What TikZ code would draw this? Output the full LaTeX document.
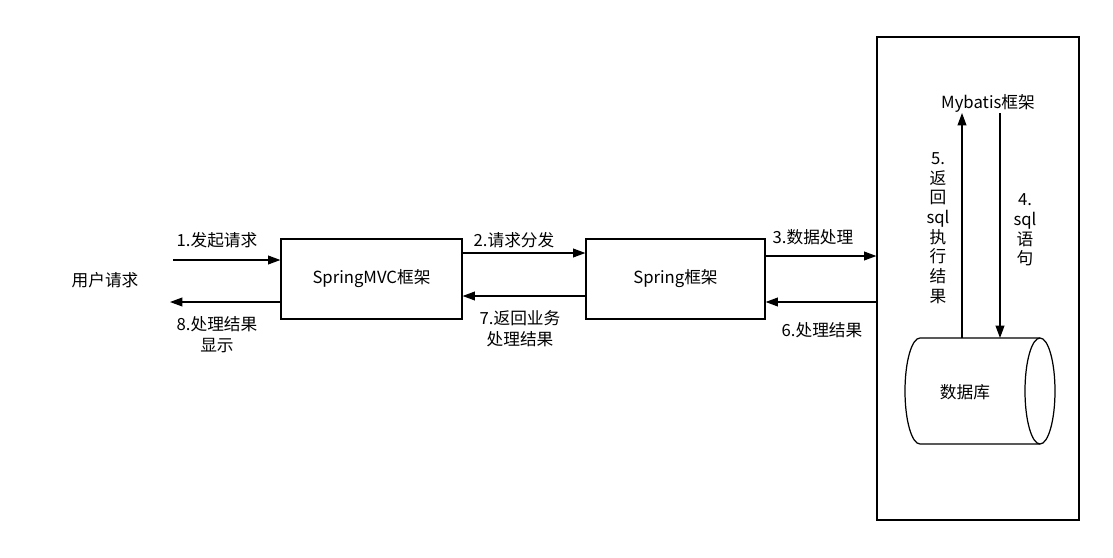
\documentclass[tikz,border=0pt]{standalone}
\usepackage{fontspec}
\setmainfont{Noto Sans CJK SC}
\usetikzlibrary{arrows.meta}
\begin{document}
\begin{tikzpicture}[x=0.02cm,y=-0.02cm,
  every node/.style={font=\fontsize{9.5pt}{12pt}\selectfont,inner sep=1pt},
  box/.style={draw,line width=0.7pt,minimum width=3.62cm,minimum height=1.6cm},
  arr/.style={-{Triangle[length=7pt,width=5pt]},line width=0.7pt},
  vtxt/.style={align=center,font=\fontsize{9.5pt}{11.2pt}\selectfont}]
\path[use as bounding box] (0,0) rectangle (1113,558);
\node (user) at (105,280) {用户请求};
\node[box] (mvc) at (371.5,279) {SpringMVC框架};
\node[box,minimum width=3.58cm] (spring) at (675.5,279) {Spring框架};
\node[draw,line width=0.7pt,minimum width=4.04cm,minimum height=9.66cm,inner sep=0] (big) at (978,278.5) {};
\node (mybatis) at (988,103) {Mybatis框架};
% cylinder
\draw[line width=0.7pt] (1040,338) -- (920,338) arc[start angle=-90,end angle=-270,x radius=15,y radius=53] -- (1040,444);
\draw[line width=0.7pt] (1040,391) ellipse[x radius=15,y radius=53];
\node (db) at (965,392) {数据库};
\coordinate (c5) at (962,338); \coordinate (m5) at (962,113);
\coordinate (m4) at (1000,113); \coordinate (c4) at (1000,338);
\coordinate (u1) at (173,260); \coordinate (u8) at (170,302);
% arrows
\draw[arr] (u1) -- (u1 -| mvc.west);
\draw[arr] (mvc.west |- u8) -- (u8);
\draw[arr] (mvc.east |- 0,253) -- (spring.west |- 0,253);
\draw[arr] (spring.west |- 0,296) -- (mvc.east |- 0,296);
\draw[arr] (spring.east |- 0,256) -- (big.west |- 0,256);
\draw[arr] (big.west |- 0,302) -- (spring.east |- 0,302);
\draw[arr] (c5) -- (m5);
\draw[arr] (m4) -- (c4);
% labels
\node at (217,240) {1.发起请求};
\node[align=center] at (217,335) {8.处理结果\\显示};
\node at (514,240) {2.请求分发};
\node[align=center] at (520,329) {7.返回业务\\处理结果};
\node at (813,237) {3.数据处理};
\node at (822,330) {6.处理结果};
\node[vtxt] at (938,228) {5.\\返\\回\\sql\\执\\行\\结\\果};
\node[vtxt] at (1025,230) {4.\\sql\\语\\句};
\end{tikzpicture}
\end{document}
